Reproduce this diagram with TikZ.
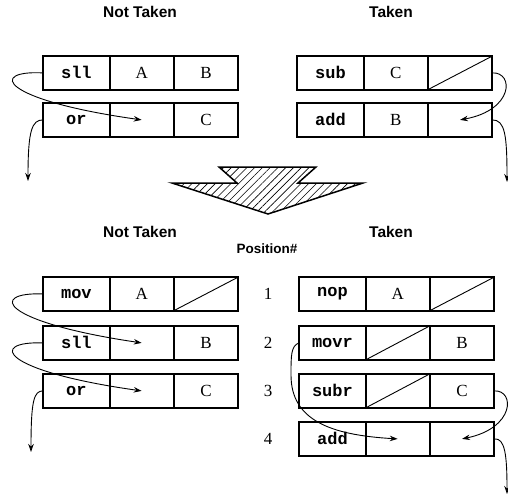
\documentclass[tikz,border=0pt]{standalone}
\usepackage{fontspec}
\setmainfont{Liberation Serif}
\newfontfamily\headfont{Liberation Sans}
\newfontfamily\opfont{Liberation Mono}
\usetikzlibrary{arrows.meta,patterns.meta}

% one instruction slot: opcode | operand | operand
\newcommand{\instrrow}[6]{%
  \node[opcell, anchor=north west] (#1op) at (#2,#3) {#4};
  \node[midcell, anchor=north west] (#1b) at (#1op.north east) {#5};
  \node[endcell, anchor=north west] (#1c) at (#1b.north east) {#6};
  \draw[frame] (#1op.north west) rectangle (#1c.south east);
  \draw[frame] (#1op.north east) -- (#1op.south east);
}

\tikzset{
  cellbase/.style={draw, line width=0.8pt, inner sep=0pt, minimum height=33pt,
    font=\fontsize{17}{17}\selectfont},
  opcell/.style={cellbase, minimum width=66pt, font=\opfont\bfseries\fontsize{17}{17}\selectfont},
  midcell/.style={cellbase, minimum width=63pt},
  endcell/.style={cellbase, minimum width=64pt},
  frame/.style={line width=1.9pt, line cap=rect},
  slash/.style={line width=0.9pt},
  flow/.style={line width=0.9pt, -{Stealth[length=8pt,width=5.5pt]}},
  heading/.style={font=\headfont\bfseries\fontsize{15.5}{15.5}\selectfont},
  posnum/.style={font=\fontsize{17}{17}\selectfont}
}

\begin{document}
\begin{tikzpicture}[x=1pt,y=-1pt]
\useasboundingbox (0,0) rectangle (508,500);

% headings
\node[heading] (hnt1) at (140,12) {Not Taken};
\node[heading] (ht1) at (391,12) {Taken};
\node[heading] (hnt2) at (140,232) {Not Taken};
\node[heading] (ht2) at (391,232) {Taken};
\node[heading, font=\headfont\bfseries\fontsize{13.5}{13.5}\selectfont] (hpos) at (267,249) {Position\#};

% original code
\instrrow{tla}{43}{56}{sll}{A}{B}
\instrrow{tlb}{43}{103}{or}{}{C}
\instrrow{tra}{297}{56}{sub}{C}{}
\instrrow{trb}{297}{103}{add}{B}{}
\draw[slash] (trac.south west) -- (trac.north east);

% transformation arrow
\draw[line width=1.5pt, line join=miter,
      pattern={Lines[angle=45,distance=5.5pt,line width=0.6pt]}]
  (219,167) -- (316,167) -- (298,183) -- (363,183) -- (268,214)
  -- (172,183) -- (237,183) -- cycle;

% transformed code
\instrrow{bla}{43}{277}{mov}{A}{}
\instrrow{blb}{43}{326}{sll}{}{B}
\instrrow{blc}{43}{374}{or}{}{C}
\draw[slash] (blac.south west) -- (blac.north east);

\instrrow{bra}{299}{277}{nop}{A}{}
\instrrow{brb}{299}{326}{movr}{}{B}
\instrrow{brc}{299}{374}{subr}{}{C}
\instrrow{brd}{299}{422}{add}{}{}
\draw[slash] (brac.south west) -- (brac.north east);
\draw[slash] (brbb.south west) -- (brbb.north east);
\draw[slash] (brcb.south west) -- (brcb.north east);

% position numbers
\node[posnum] (n1) at (268,293.5) {1};
\node[posnum] (n2) at (268,342.5) {2};
\node[posnum] (n3) at (268,390.5) {3};
\node[posnum] (n4) at (268,438.5) {4};

% free ends of the outgoing arrows
\coordinate (tlout) at (28,181);
\coordinate (trout) at (507,182);
\coordinate (blout) at (31,452);
\coordinate (brout) at (507,494);

% flow connectors
\draw[flow] (tlaop.west) .. controls (-12,70) and (0,100) .. (tlbb.center);
\draw[flow] (tlbop.west) .. controls (32,120) and (28,130) .. (tlout);
\draw[flow] (trac.east) .. controls (514,72) and (514,110) .. (trbc.center);
\draw[flow] (trbc.east) .. controls (505,120) and (507,135) .. (trout);

\draw[flow] (blaop.west) .. controls (-12,292) and (0,322) .. (blbb.center);
\draw[flow] (blbop.west) .. controls (-12,341) and (0,371) .. (blcb.center);
\draw[flow] (blcop.west) .. controls (34,391) and (31,400) .. (blout);

\draw[flow] (brbop.west) .. controls (291,346) and (291,355) .. (291,375)
  .. controls (291,420) and (330,435) .. (brdb.center);
\draw[flow] (brcc.east) .. controls (515,390) and (515,428) .. (brdc.center);
\draw[flow] (brdc.east) .. controls (505,438) and (507,455) .. (brout);
\end{tikzpicture}
\end{document}
